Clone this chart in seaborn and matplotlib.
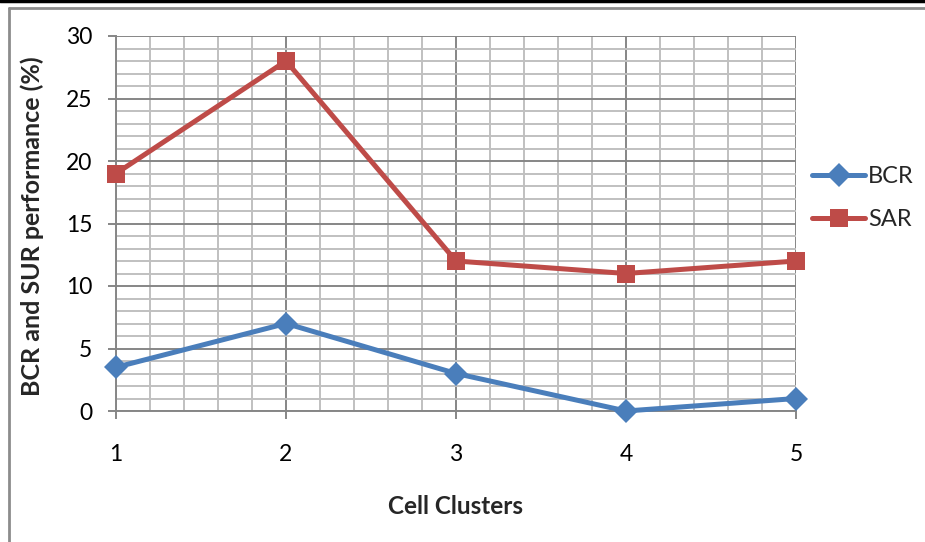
import matplotlib
matplotlib.use("Agg")
import matplotlib.pyplot as plt
import seaborn as sns
import pandas as pd
from matplotlib.lines import Line2D
from matplotlib.ticker import MultipleLocator

clusters = [1, 2, 3, 4, 5]
bcr = [3.5, 7, 3, 0, 1]
sar = [19, 28, 12, 11, 12]
series_names = ["BCR", "SAR"]
x_label = "Cell Clusters"
y_label = "BCR and SUR performance (%)"

df = pd.DataFrame({
    "Cluster": clusters * 2,
    "Value": bcr + sar,
    "Series": [series_names[0]] * len(clusters) + [series_names[1]] * len(clusters),
})

sns.set_theme(style="white")
plt.rcParams["font.family"] = ["Lato", "DejaVu Sans"]

W, H = 925, 542
fig = plt.figure(figsize=(W / 100, H / 100), dpi=100)
ax = fig.add_axes([116 / W, 1 - 411 / H, (796 - 116) / W, (411 - 36) / H])

major_c = "#868686"
minor_c = "#c0c0c0"

ax.set_xlim(1, 5)
ax.set_ylim(0, 30)
ax.xaxis.set_major_locator(MultipleLocator(1))
ax.xaxis.set_minor_locator(MultipleLocator(0.2))
ax.yaxis.set_major_locator(MultipleLocator(5))
ax.yaxis.set_minor_locator(MultipleLocator(1))
ax.grid(which="minor", color=minor_c, lw=1.4, zorder=0)
ax.grid(which="major", color=major_c, lw=1.4, zorder=0)
ax.set_axisbelow(True)

palette = {"BCR": "#4a7ebb", "SAR": "#be4b48"}
markers = {"BCR": "D", "SAR": "s"}
msizes = {"BCR": 12, "SAR": 13}
sns.lineplot(data=df, x="Cluster", y="Value", hue="Series", style="Series",
             markers=markers, dashes=False, palette=palette,
             linewidth=3.6, markersize=12, markeredgewidth=0, ax=ax, legend=False,
             clip_on=False, zorder=3)
for ln in ax.get_lines():
    if ln.get_marker() == "s":
        ln.set_markersize(msizes["SAR"])

for s in ["top", "right"]:
    ax.spines[s].set_visible(False)
for s in ["left", "bottom"]:
    ax.spines[s].set_color(major_c)
    ax.spines[s].set_linewidth(1.4)

ax.tick_params(axis="both", which="minor", length=0)
ax.tick_params(axis="x", which="major", direction="out", length=6, width=1.4,
               color=major_c, labelsize=16.5, pad=18, labelcolor="black", bottom=True)
ax.tick_params(axis="y", which="major", direction="out", length=6, width=1.4,
               color=major_c, labelsize=16.5, pad=11, labelcolor="black", left=True)
ax.set_xticks(clusters)
ax.set_xticklabels([str(c) for c in clusters])
ax.set_xlabel("")
ax.set_ylabel("")

fig.text(456 / W, 1 - 507 / H, x_label, ha="center", va="center",
         fontsize=17.5, fontweight="bold")
fig.text(32 / W, 1 - 226 / H, y_label, ha="center", va="center",
         rotation=90, fontsize=18, fontweight="bold")

handles = [Line2D([0], [0], color=palette[n], lw=3.6, marker=markers[n],
                  markersize=msizes[n], markeredgewidth=0) for n in series_names]
fig.legend(handles, series_names, loc="center left",
           bbox_to_anchor=(812 / W, 1 - 198 / H), frameon=False, fontsize=17,
           handlelength=2.25, handletextpad=0.13, labelspacing=0.95,
           borderpad=0, borderaxespad=0)

# outer chart frame
fig.add_artist(Line2D([0, 1], [1 - 1 / H, 1 - 1 / H], color="black", lw=2.5,
                      transform=fig.transFigure))
fig.add_artist(Line2D([9 / W, 1], [1 - 8 / H, 1 - 8 / H], color="#8c8c8c", lw=2,
                      transform=fig.transFigure))
fig.add_artist(Line2D([9 / W, 9 / W], [0, 1 - 8 / H], color="#8c8c8c", lw=2,
                      transform=fig.transFigure))

fig.savefig("out.png", dpi=100)
